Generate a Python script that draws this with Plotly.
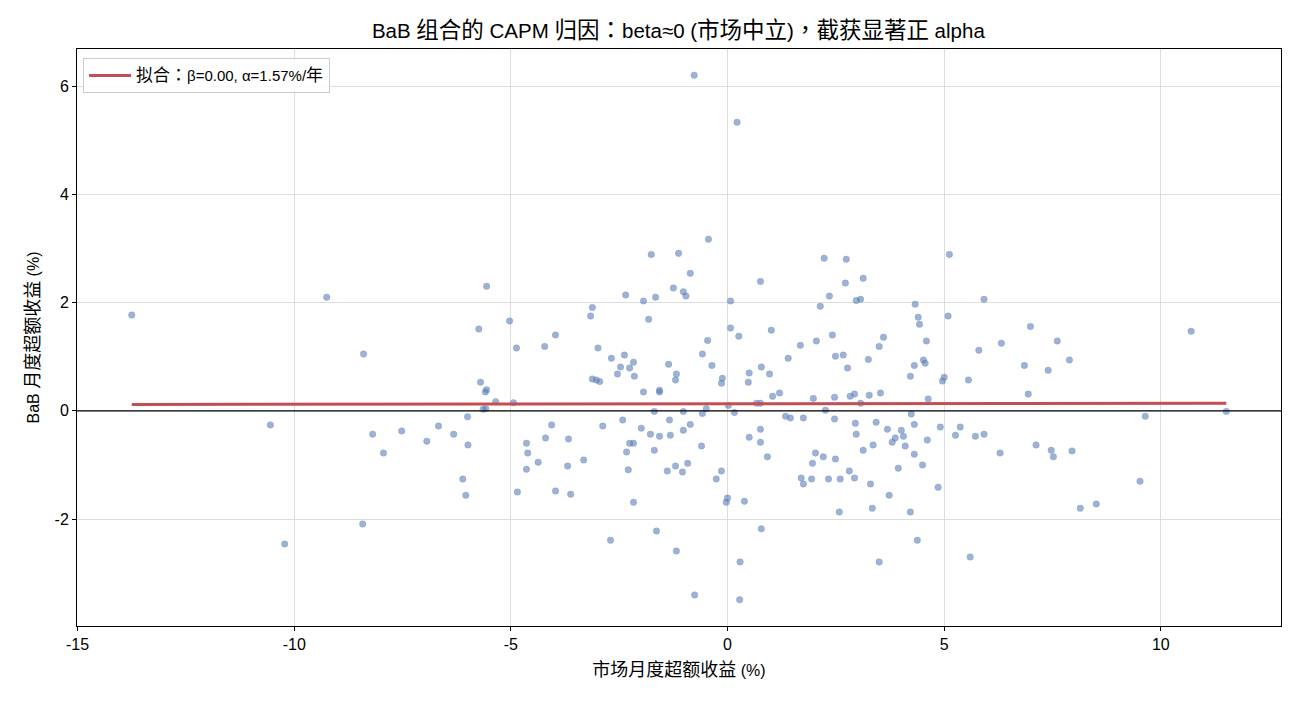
import re
import plotly.graph_objects as go

mkt_excess = [
    -13.75, -9.25, -8.40, -10.55, -8.19, -7.52, -7.94, -6.94, -6.67, -8.42, -10.22,
    -5.56, -5.74, -5.03, -4.87, -4.22, -3.97, -3.12, -3.16, -2.99, -5.70, -5.56, -5.59,
    -5.35, -4.94, -3.12, -3.03, -2.95, -5.64, -5.58, -6.00,
    -6.32, -5.99, -6.11, -6.04, -4.85, -4.64, -4.61, -4.64, -4.37, -4.20, -4.06, -3.67,
    -3.69, -3.32, -3.97, -3.62, -2.88,
    -0.44, -1.76, -1.13, -0.86, -2.35, -1.94, -1.66, -1.25, -1.02, -0.96, 0.07, -1.82,
    0.07, 0.26, -0.46, -0.58, -0.36, -2.68, -2.38, -2.47, -2.17, -2.26, -2.54, -2.15,
    -1.36, -1.18, -1.20, -1.94, -1.57, -1.57, -0.12, -0.14, -1.69, -1.02, -0.58, -0.49,
    0.02, 0.16,
    -2.42, -1.99, -1.78, -1.57, -1.34, -1.32, -1.02, -0.86, -2.26, -2.17, -2.33, -1.69,
    -0.60, -2.29, -1.39, -1.20, -1.04, -0.92, -0.14, -0.26, -2.17, 0.00, -0.03, -2.70,
    -1.64, -1.18, -0.76, 0.29, 0.28,
    2.23, 2.74, 0.76, 2.72, 3.13, 2.35, 2.14, 2.97, 3.07, 1.01, 2.42, 2.05, 1.68, 1.40,
    2.49, 2.67, 2.77, 3.25, 3.50, 0.78, 0.97, 0.50, 0.48, 1.04, 1.20, 0.67, 0.76, 1.98,
    2.47, 2.83, 2.93, 3.07, 3.27, 2.26, 3.53,
    1.34, 1.45, 1.75, 2.47, 2.95, 3.43, 0.76, 0.50, 0.76, 2.97, 3.36, 3.13, 0.92, 2.03,
    2.21, 2.49, 1.96, 2.81, 2.93, 1.70, 1.75, 1.94, 2.33, 2.60, 3.30, 0.39, 3.34, 2.58,
    0.78, 3.50,
    5.12, 5.92, 4.33, 4.40, 4.43, 5.09, 3.60, 4.59, 5.80, 6.32, 4.52, 4.56, 4.31, 4.22,
    5.00, 4.96, 5.56, 4.63, 4.24,
    3.69, 4.01, 4.31, 3.87, 3.80, 4.06, 4.10, 4.31, 4.61, 4.91, 5.37, 5.26, 5.72, 5.92,
    6.29, 3.94, 4.50, 3.73, 4.86, 4.22, 4.38, 5.60,
    6.99, 7.61, 7.89, 6.85, 7.40, 6.94, 10.70, 9.64, 11.51, 7.12, 7.47, 7.52, 7.95, 9.52,
    8.14, 8.51,
    -0.77, 0.22,
]

bab_excess = [
    1.77, 2.10, 1.05, -0.26, -0.43, -0.37, -0.78, -0.56, -0.28, -2.09, -2.46,
    2.30, 1.51, 1.66, 1.16, 1.19, 1.40, 1.91, 1.75, 1.16, 0.53, 0.39, 0.35,
    0.17, 0.15, 0.59, 0.57, 0.54, 0.03, 0.04, -0.11,
    -0.43, -0.63, -1.26, -1.56, -1.50, -0.60, -0.78, -1.08, -0.95, -0.50, -0.26, -0.52,
    -1.02, -0.91, -1.48, -1.54, -0.28,
    3.17, 2.89, 2.91, 2.54, 2.14, 2.03, 2.10, 2.27, 2.20, 2.12, 2.03, 1.69,
    1.53, 1.38, 1.30, 1.05, 0.84, 0.97, 1.03, 0.81, 0.90, 0.79, 0.68, 0.64,
    0.86, 0.68, 0.57, 0.35, 0.38, 0.35, 0.60, 0.51, -0.01, -0.01, -0.05, 0.04,
    0.10, -0.03,
    -0.17, -0.32, -0.43, -0.47, -0.17, -0.45, -0.36, -0.25, -0.60, -0.60, -0.76, -0.73,
    -0.65, -1.09, -1.11, -1.02, -1.13, -0.97, -1.11, -1.26, -1.69, -1.61, -1.69, -2.39,
    -2.22, -2.59, -3.40, -2.79, -3.49,
    2.82, 2.80, 2.39, 2.36, 2.45, 2.12, 1.93, 2.04, 2.06, 1.49, 1.40, 1.29, 1.21, 0.97,
    1.01, 1.03, 0.79, 0.95, 1.19, 0.81, 0.68, 0.70, 0.53, 0.27, 0.33, 0.14, 0.14, 0.23,
    0.25, 0.27, 0.31, 0.14, 0.29, 0.01, 0.33,
    -0.10, -0.13, -0.13, -0.15, -0.23, -0.21, -0.34, -0.49, -0.58, -0.43, -0.63, -0.73, -0.85, -0.78,
    -0.85, -0.89, -0.97, -1.11, -1.24, -1.24, -1.35, -1.26, -1.26, -1.26, -1.35, -1.67, -1.80, -1.87,
    -2.18, -2.79,
    2.89, 2.06, 1.97, 1.73, 1.60, 1.75, 1.36, 1.29, 1.12, 1.25, 0.94, 0.88, 0.84, 0.64,
    0.62, 0.55, 0.57, 0.22, -0.06,
    -0.34, -0.36, -0.25, -0.50, -0.58, -0.47, -0.65, -0.80, -0.54, -0.30, -0.30, -0.45, -0.47, -0.43,
    -0.78, -1.06, -1.00, -1.56, -1.41, -1.87, -2.39, -2.70,
    1.56, 1.29, 0.94, 0.84, 0.75, 0.31, 1.47, -0.10, -0.01, -0.63, -0.73, -0.85, -0.74, -1.30,
    -1.80, -1.72,
    6.20, 5.33,
]

fit_alpha_monthly = 0.131   # % per month (1.57%/yr)
fit_beta = 0.001

title_text = "BaB 组合的 CAPM 归因：beta≈0 (市场中立)，截获显著正 alpha"
x_title = "市场月度超额收益 (%)"
y_title = "BaB 月度超额收益 (%)"
legend_label = "拟合：β=0.00, α=1.57%/年"

x_ticks = [-15, -10, -5, 0, 5, 10]
x_tick_text = ["-15", "-10", "-5", "0", "5", "10"]
y_ticks = [-2, 0, 2, 4, 6]
y_tick_text = ["-2", "0", "2", "4", "6"]

FONT = "'Liberation Sans', Arial, 'Noto Sans CJK TC', sans-serif"

CJK_RE = re.compile(r"([\u3000-\u303f\u4e00-\u9fff\uff00-\uffef]+)")


def sized(text, latin_size, cjk_size):
    """Wrap every run with an explicit size: CJK runs slightly larger than Latin."""
    parts = CJK_RE.split(text)
    out = []
    for p in parts:
        if not p:
            continue
        size = cjk_size if CJK_RE.fullmatch(p) else latin_size
        out.append(f'<span style="font-size:{size}px">{p}</span>')
    return "".join(out)


xmin, xmax = min(mkt_excess), max(mkt_excess)
ymin, ymax = min(bab_excess), max(bab_excess)
xpad = 0.05 * (xmax - xmin)
ypad = 0.05 * (ymax - ymin)

fit_x = [xmin, xmax]
fit_y = [fit_alpha_monthly + fit_beta * v for v in fit_x]

fig = go.Figure()
fig.add_trace(go.Scatter(
    x=mkt_excess, y=bab_excess, mode="markers", showlegend=False,
    marker=dict(size=6.5, color="rgba(76,114,176,0.55)",
                line=dict(width=0.8, color="rgba(120,150,200,0.45)")),
    hoverinfo="skip",
))
fig.add_trace(go.Scatter(
    x=fit_x, y=fit_y, mode="lines", name=sized(legend_label, 15, 17),
    line=dict(color="#C44E52", width=3),
))

fig.add_shape(type="line", xref="paper", x0=0, x1=1, yref="y", y0=0, y1=0,
              line=dict(color="black", width=1.2), layer="above")

fig.update_layout(
    width=1300, height=702,
    margin=dict(l=77, r=19, t=49, b=76),
    paper_bgcolor="white", plot_bgcolor="white",
    font=dict(family=FONT, size=16, color="black"),
    title=dict(text=sized(title_text, 20.5, 22.5),
               x=0.5218, xanchor="center", y=0.956, yanchor="middle",
               font=dict(size=20.5, family=FONT)),
    showlegend=True,
    legend=dict(x=0.005, y=0.984, xanchor="left", yanchor="top",
                bgcolor="rgba(255,255,255,0.85)", bordercolor="#cccccc", borderwidth=1,
                font=dict(size=15, family=FONT), itemwidth=42),
    xaxis=dict(range=[xmin - xpad, xmax + xpad], tickvals=x_ticks, ticktext=x_tick_text,
               showgrid=True, gridcolor="#dddddd", gridwidth=1, zeroline=False,
               showline=True, linecolor="black", linewidth=1, mirror=True,
               ticks="outside", ticklen=4, tickcolor="black",
               tickfont=dict(size=16),
               title=dict(text=sized(x_title, 16, 18), font=dict(size=16), standoff=12)),
    yaxis=dict(range=[ymin - ypad, ymax + ypad], tickvals=y_ticks, ticktext=y_tick_text,
               showgrid=True, gridcolor="#dddddd", gridwidth=1, zeroline=False,
               showline=True, linecolor="black", linewidth=1, mirror=True,
               ticks="outside", ticklen=4, tickcolor="black",
               tickfont=dict(size=16),
               title=dict(text=sized(y_title, 16, 18), font=dict(size=16), standoff=10)),
)

fig.write_html("out.html")
